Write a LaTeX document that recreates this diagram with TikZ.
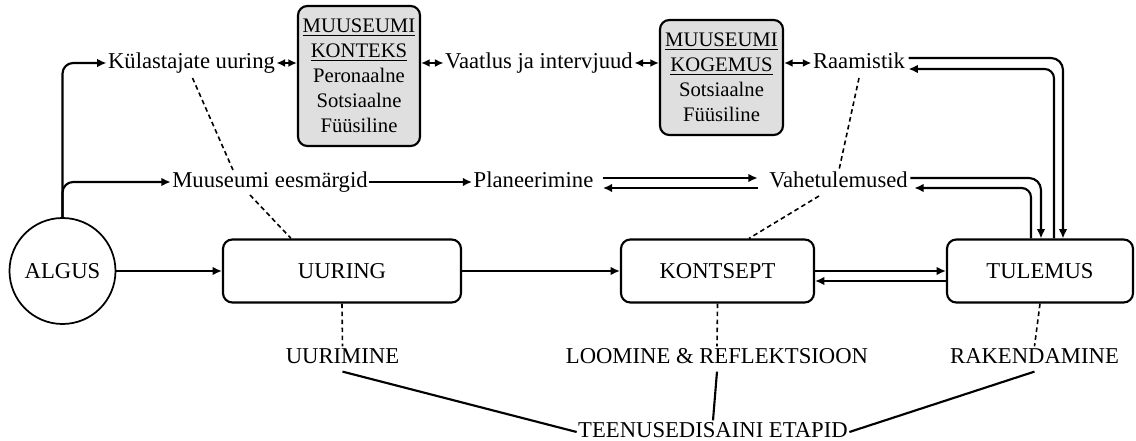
\documentclass[tikz,border=0pt]{standalone}
\usepackage{fontspec}
\setmainfont{Liberation Serif}
\usetikzlibrary{arrows.meta,calc}
\begin{document}
\begin{tikzpicture}[x=0.75pt,y=-0.75pt,
 every node/.style={font=\fontsize{17}{20}\selectfont},
 txt/.style={inner sep=1pt, text height=11.5pt, text depth=3.5pt},
 stage/.style={draw, line width=1.6pt, rounded corners=7pt, minimum height=47.25pt, inner sep=0pt},
 ctx/.style={draw, line width=1.6pt, rounded corners=7pt, fill=gray!25, align=center, font=\fontsize{15.5}{18.75}\selectfont, inner sep=0pt},
 arr/.style={line width=1.6pt, -{Latex[length=7pt,width=6.5pt]}},
 dbl/.style={line width=1.6pt, {Latex[length=6.5pt,width=6pt]}-{Latex[length=6.5pt,width=6pt]}},
 dsh/.style={line width=1.2pt, dash pattern=on 3.5pt off 2.5pt},
 link/.style={line width=1.6pt}]
\useasboundingbox (0,0) rectangle (1136,441);

% stages
\node[draw, circle, line width=1.3pt, minimum size=79.5pt, inner sep=0pt] (algus) at (62.5,271) {ALGUS};
\node[stage, minimum width=178.5pt] (uuring) at (342,271) {UURING};
\node[stage, minimum width=144.75pt] (kontsept) at (717.5,271) {KONTSEPT};
\node[stage, minimum width=139.5pt] (tulemus) at (1040,271) {TULEMUS};

% context boxes
\node[ctx, minimum width=91.5pt, minimum height=105pt] (konteks) at (359,76)
  {\underline{MUUSEUMI}\\\underline{KONTEKS}\\Peronaalne\\Sotsiaalne\\Füüsiline};
\node[ctx, minimum width=92.25pt, minimum height=86.25pt] (kogemus) at (721.5,77.5)
  {\underline{MUUSEUMI}\\\underline{KOGEMUS}\\Sotsiaalne\\Füüsiline};

% text labels
\node[txt] (kul) at (191.5,63) {Külastajate uuring};
\node[txt] (vaatlus) at (539,63) {Vaatlus ja intervjuud};
\node[txt] (raam) at (859,63) {Raamistik};
\node[txt] (eesm) at (270,182) {Muuseumi eesmärgid};
\node[txt] (plan) at (533.5,182) {Planeerimine};
\node[txt] (vahe) at (838.5,182) {Vahetulemused};
\node[txt] (uurimine) at (342.5,358) {UURIMINE};
\node[txt] (loomine) at (717,358) {LOOMINE \& REFLEKTSIOON};
\node[txt] (rakend) at (1034.5,358) {RAKENDAMINE};
\node[txt] (etapid) at (713,432) {TEENUSEDISAINI ETAPID};

% main flow
\draw[arr, rounded corners=8pt] (algus.north) |- (kul.west);
\draw[arr, rounded corners=8pt] (algus.north) |- (eesm.west);
\draw[arr] (algus) -- (uuring);
\draw[arr] (uuring) -- (kontsept);
\draw[arr] (kontsept.east) -- (tulemus.west);
\draw[arr] ($(tulemus.west)+(0,10)$) -- ($(kontsept.east)+(0,10)$);

% top row
\draw[dbl] (kul.east) -- (konteks.west |- kul.east);
\draw[dbl] (konteks.east |- vaatlus.west) -- (vaatlus.west);
\draw[dbl] (vaatlus.east) -- (kogemus.west |- vaatlus.east);
\draw[dbl] (kogemus.east |- raam.west) -- (raam.west);

% middle row
\draw[arr] (eesm.east) -- (plan.west);
\draw[arr] ($(plan.east)+(8,-4)$) -- ($(vahe.west)+(-10,-4)$);
\draw[arr] ($(vahe.west)+(-10,6)$) -- ($(plan.east)+(8,6)$);

% feedback to TULEMUS
\draw[arr, rounded corners=9pt] ($(raam.east)+(2,-5)$) -| ($(tulemus.north)+(23,0)$);
\draw[arr, rounded corners=7pt] ($(tulemus.north)+(14,0)$) |- ($(raam.east)+(2,6)$);
\draw[arr, rounded corners=9pt] ($(vahe.east)+(1,-4)$) -| ($(tulemus.north)+(1,0)$);
\draw[arr, rounded corners=7pt] ($(tulemus.north)+(-9,0)$) |- ($(vahe.east)+(5,6)$);

% dashed relations
\draw[dsh] ($(kul)+(1,15)$) -- ($(eesm)+(-37,-12)$);
\draw[dsh] ($(eesm)+(-20,13)$) -- ($(uuring.north)+(-51,0)$);
\draw[dsh] ($(raam)+(0,15)$) -- ($(vahe)+(0.5,-12)$);
\draw[dsh] ($(vahe)+(-19.5,14)$) -- ($(kontsept.north)+(31.5,0)$);
\draw[dsh] (uuring.south) -- (uurimine.north);
\draw[dsh] (kontsept.south) -- (loomine.north);
\draw[dsh] (tulemus.south) -- (rakend.north);

% phase links
\draw[link] ($(uurimine.south)+(0,2)$) -- (etapid.west);
\draw[link] ($(loomine.south)+(0,2)$) -- (etapid.north);
\draw[link] ($(rakend.south)+(0,2)$) -- (etapid.east);
\end{tikzpicture}
\end{document}
